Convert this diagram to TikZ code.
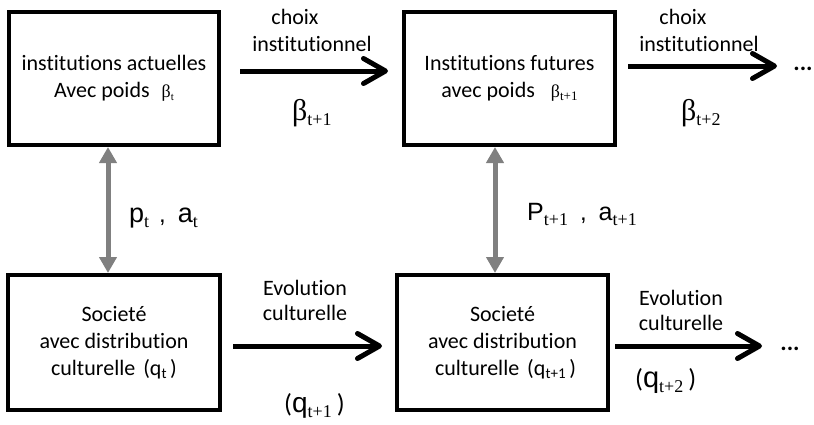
\documentclass[tikz,border=0pt]{standalone}
\usepackage{fontspec}
\setmainfont{Carlito}[Ligatures=NoCommon]
\newfontfamily\arl{Liberation Sans}
\newfontfamily\tms{Liberation Serif}
\usetikzlibrary{arrows.meta}
\newcommand\fs[1]{\fontsize{#1}{#1}\selectfont}
\newcommand\sbt[2]{\raisebox{#1}{#2}}
\definecolor{arrowgray}{RGB}{128,128,128}
\begin{document}
\begin{tikzpicture}[x=1pt,y=-1pt,
  box/.style={draw=black,line width=4pt,rectangle,align=center,inner sep=0pt,
    font=\fontsize{22}{27}\selectfont},
  blk/.style={line width=5pt,-{Straight Barb[length=22pt,width=25pt,round]}},
  gry/.style={draw=arrowgray,line width=5pt,{Triangle[length=16pt,width=17pt]}-{Triangle[length=16pt,width=17pt]}},
  lbl/.style={inner sep=0pt,anchor=base,font=\fs{22}},
  lblw/.style={inner sep=0pt,anchor=base west,font=\fs{22}}]
\useasboundingbox (0,0) rectangle (814,424);

% boxes
\node[box,minimum width=210pt,minimum height=133pt] (b1) at (114,78.5)
  {institutions actuelles\\ Avec poids\hspace{12pt}{\tms\fs{18}β\sbt{-3pt}{\fs{11}t}}\hspace{8pt}};
\node[box,minimum width=211pt,minimum height=133pt] (b2) at (509.5,78.5)
  {Institutions futures\\ avec poids\hspace{16pt}{\tms\fs{18}β\sbt{-3pt}{\fs{13}t+1}}};
\node[box,minimum width=212pt,minimum height=135pt] (b3) at (114,342.5)
  {Societé\\ avec distribution\\ culturelle\hspace{8pt}(q\sbt{-3pt}{\fs{15}t}\,)};
\node[box,minimum width=211pt,minimum height=135pt] (b4) at (502.5,342.5)
  {Societé\\ avec distribution\\ \hspace{6pt}culturelle\hspace{8pt}(q\sbt{-3pt}{\fs{15}t+1}\,)};

% free ends
\coordinate (t2e) at (777,66);
\coordinate (u2e) at (762,346);

% black arrows
\draw[blk] ([xshift=19pt,yshift=7.5pt]b1.east) -- ([xshift=-14pt,yshift=7.5pt]b2.west);
\draw[blk] ([xshift=11pt,yshift=12.5pt]b2.east) -- (t2e);
\draw[blk] ([xshift=11pt,yshift=-3.5pt]b3.east) -- ([xshift=-13pt,yshift=-3.5pt]b4.west);
\draw[blk] ([xshift=5pt,yshift=-3.5pt]b4.east) -- (u2e);

% gray arrows
\draw[gry] ([xshift=-6pt]b1.south) -- ([xshift=-6pt]b3.north);
\draw[gry] ([xshift=-14.5pt]b2.south) -- ([xshift=-7.5pt]b4.north);

% top labels
\node[lbl] (c1) at (295,24) {choix};
\node[lbl] (i1) at (312,51) {institutionnel};
\node[lbl] (c2) at (683,24) {choix};
\node[lbl] (i2) at (699,51) {institutionnel};
\node[lblw] (be1) at (292,120) {\tms\fs{30}β\sbt{-5pt}{\fs{18}t+1}};
\node[lblw] (be2) at (681,120) {\tms\fs{30}β\sbt{-5pt}{\fs{18}t+2}};
\node[lbl,font=\fs{24}\bfseries] (d1) at (803,70) {...};

% middle labels
\node[lblw] (pa1) at (129,222) {{\arl\fs{27}p}\sbt{-5pt}{\tms\fs{18}t}\hspace{10pt}{\arl\fs{24},}\hspace{12pt}{\arl\fs{27}a}\sbt{-5pt}{\tms\fs{18}t}};
\node[lblw] (pa2) at (527,220) {{\arl\fs{25}P}\sbt{-5pt}{\tms\fs{18}t+1}\hspace{12pt}{\arl\fs{24},}\hspace{12pt}{\arl\fs{25}a}\sbt{-5pt}{\tms\fs{18}t+1}};

% bottom labels
\node[lbl] (e1) at (305,295) {Evolution};
\node[lbl] (cu1) at (305,320) {culturelle};
\node[lbl] (e2) at (681,305) {Evolution};
\node[lbl] (cu2) at (681,330) {culturelle};
\node[lblw] (q1) at (284,412) {{\fs{26}(}{\arl\fs{28}q}\sbt{-5pt}{\tms\fs{18}t+1}\hspace{5pt}{\fs{26})}};
\node[lblw] (q2) at (635,387) {{\fs{26}(}{\arl\fs{29}q}\sbt{-5pt}{\tms\fs{18}t+2}\hspace{5pt}{\fs{26})}};
\node[lbl,font=\fs{24}\bfseries] (d2) at (790,350) {...};
\end{tikzpicture}
\end{document}
